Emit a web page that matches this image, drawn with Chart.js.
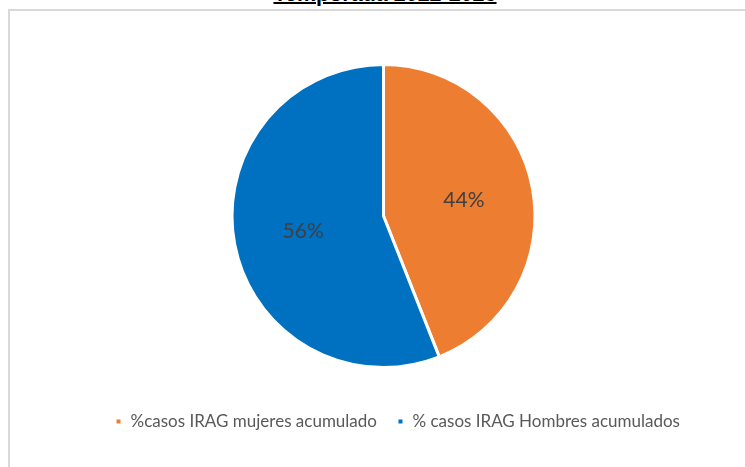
<!DOCTYPE html>
<html lang="es">
<head>
  <meta charset="UTF-8" />
  <title>Casos IRAG por sexo - Temporada 2022-2023</title>
  <script src="https://cdn.jsdelivr.net/npm/chart.js"></script>
  <style>
    body {
      margin: 0;
      width: 745px;
      height: 467px;
      overflow: hidden;
      background: #fff;
      position: relative;
    }
    .titulo {
      position: absolute;
      left: 0;
      width: 770px;
      top: -16px;
      text-align: center;
      font-family: 'Liberation Sans', Arial, sans-serif;
      font-weight: bold;
      font-size: 21.5px;
      line-height: 21px;
      color: #000;
      text-decoration: underline;
      text-decoration-thickness: 2px;
    }
    .marco {
      position: absolute;
      left: 8px;
      top: 9px;
      width: 760px;
      height: 480px;
      border: 2px solid #d9d9d9;
      background: #fff;
    }
  </style>
</head>
<body>
  <div class="titulo">Temporada 2022-2023</div>
  <div class="marco">
    <canvas id="pieChart" width="747" height="456"></canvas>
  </div>

<script>
  const categorias = ['%casos IRAG mujeres acumulado', '% casos IRAG Hombres acumulados'];
  const porcentajes = [44, 56];
  const colores = ['#ED7D31', '#0070C0'];

  // percentage text inside each slice, on the middle angle
  const etiquetas = {
    id: 'etiquetas',
    afterDatasetsDraw(chart) {
      const ctx = chart.ctx;
      const meta = chart.getDatasetMeta(0);
      ctx.save();
      ctx.font = '21px Lato, "Open Sans", sans-serif';
      ctx.fillStyle = '#404040';
      ctx.textAlign = 'center';
      ctx.textBaseline = 'middle';
      meta.data.forEach((arc, i) => {
        const p = arc.getProps(['x', 'y', 'startAngle', 'endAngle', 'outerRadius'], true);
        const mid = (p.startAngle + p.endAngle) / 2;
        const r = p.outerRadius * 0.54;
        ctx.fillText(porcentajes[i] + '%', p.x + Math.cos(mid) * r, p.y + Math.sin(mid) * r);
      });
      ctx.restore();
    }
  };

  // nudge the legend a little right and down
  const moverLeyenda = {
    id: 'moverLeyenda',
    afterLayout(chart) {
      const lg = chart.legend;
      lg.left += 14; lg.right += 14;
      lg.top += 24; lg.bottom += 24;
    }
  };

  new Chart(document.getElementById('pieChart'), {
    type: 'pie',
    data: {
      labels: categorias,
      datasets: [{
        data: porcentajes,
        backgroundColor: colores,
        borderColor: '#ffffff',
        borderWidth: 3
      }]
    },
    options: {
      responsive: false,
      animation: false,
      layout: { padding: { top: 52, bottom: 51 } },
      plugins: {
        tooltip: { enabled: false },
        legend: {
          position: 'bottom',
          labels: {
            boxWidth: 7,
            boxHeight: 7,
            padding: 20,
            color: '#595959',
            font: { family: 'Lato, "Open Sans", sans-serif', size: 17 }
          }
        }
      }
    },
    plugins: [etiquetas, moverLeyenda]
  });
</script>
</body>
</html>
